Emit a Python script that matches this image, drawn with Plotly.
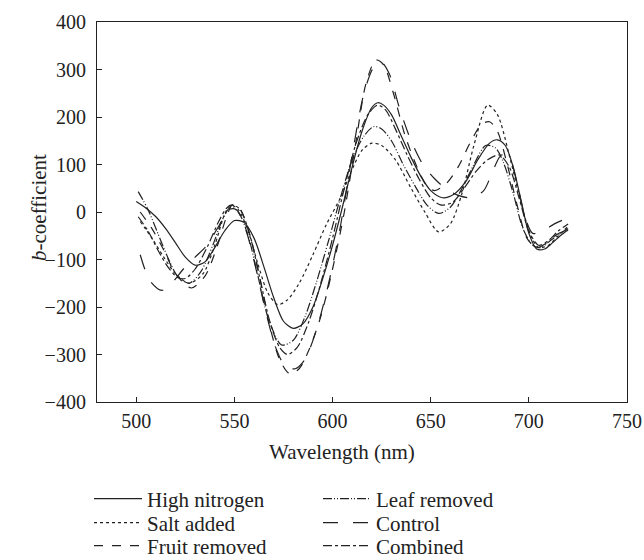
import plotly.graph_objects as go

# ---- data ----
hn_x = [500,505,510,515,520,525,530,535,540,545,550,555,560,565,570,575,580,585,590,595,600,605,610,615,620,623,626,630,635,640,645,650,656,662,668,674,680,684,688,692,696,700,704,708,712,716,720]
hn_y = [22,8,-10,-35,-65,-95,-112,-105,-75,-40,-18,-22,-55,-115,-180,-230,-245,-235,-200,-140,-70,10,95,170,220,230,225,205,160,115,75,45,30,38,65,110,145,152,140,95,25,-45,-78,-78,-65,-50,-38]

salt_x = [502,508,514,520,527,534,540,545,548,552,557,562,567,572,577,583,590,597,604,610,615,620,625,632,640,647,654,660,666,672,679,684,690,696,701,705,710,715,720]
salt_y = [-20,-55,-95,-130,-150,-130,-70,-5,15,5,-40,-110,-170,-195,-185,-150,-90,-25,30,90,130,145,140,110,50,0,-42,-25,40,140,225,205,120,20,-50,-75,-70,-50,-30]

fruit_x = [502,508,514,520,528,535,541,546,549,553,558,563,568,573,578,583,588,594,600,606,612,617,622,626,631,637,643,648,652,658,664,670,676,680,684,689,694,699,704,709,714,720]
fruit_y = [0,-35,-80,-130,-160,-135,-75,-10,15,5,-50,-140,-240,-310,-340,-330,-290,-220,-120,0,150,270,320,310,250,160,95,55,45,60,95,145,185,190,170,100,15,-55,-75,-65,-48,-35]

leaf_x = [501,506,511,516,521,527,533,539,544,548,552,557,562,567,574,580,586,592,598,604,610,616,621,625,630,636,642,648,654,660,666,672,678,683,687,692,697,702,706,711,716,720]
leaf_y = [43,5,-45,-95,-135,-150,-125,-70,-15,10,0,-50,-135,-220,-280,-270,-220,-145,-60,30,110,160,180,175,150,100,55,15,-3,10,50,100,140,135,105,40,-35,-70,-75,-60,-45,-35]

ctrl_x = [502,507,513,518,524,530,536,542,547,551,556,561,566,571,576,581,586,592,598,604,610,616,621,625,629,634,640,646,652,658,664,671,677,682,686,690,694,698,702,707,713,720]
ctrl_y = [-90,-145,-165,-150,-120,-95,-70,-30,5,5,-40,-120,-210,-285,-325,-330,-310,-245,-150,-30,120,250,305,315,290,220,150,100,70,48,35,30,45,90,120,115,60,-10,-45,-40,-25,-12]

comb_x = [501,506,511,516,521,525,530,536,542,546,549,553,558,563,568,573,577,582,588,594,600,606,612,618,623,627,632,638,644,650,655,661,667,673,679,685,690,695,700,705,710,715,720]
comb_y = [-10,-40,-80,-115,-138,-140,-120,-75,-20,8,15,5,-50,-140,-230,-285,-300,-285,-230,-150,-55,50,145,205,225,215,175,120,70,30,15,20,50,85,110,120,95,30,-40,-70,-60,-40,-25]

x_ticks = [500, 550, 600, 650, 700, 750]
y_ticks = [-400, -300, -200, -100, 0, 100, 200, 300, 400]

FONT = "Liberation Serif"
FS_TICK = 20
FS_TXT = 21
LC = "#222222"

W, H = 644, 560
L, R, T, B = 97, 17, 22, 158
PH = H - T - B
PW = W - L - R


def px_x(p):
    return (p - L) / PW


def px_y(p):
    return (T + PH - p) / PH


# (name, x, y, dash, legend id, legend column px, legend row centre px)
series = [
    ("High nitrogen", hn_x, hn_y, "solid", "legend", 89, 499),
    ("Salt added", salt_x, salt_y, "dot", "legend2", 89, 523),
    ("Fruit removed", fruit_x, fruit_y, "dash", "legend3", 89, 546),
    ("Leaf removed", leaf_x, leaf_y, "9px,2px,1px,2px,1px,2px", "legend4", 318, 499),
    ("Control", ctrl_x, ctrl_y, "longdash", "legend5", 318, 523),
    ("Combined", comb_x, comb_y, "dashdot", "legend6", 318, 546),
]

fig = go.Figure()
legends = {}
for name, xs, ys, dash, lg, lx, ly in series:
    fig.add_trace(go.Scatter(
        x=xs, y=ys, mode="lines", name=name, legend=lg, showlegend=True,
        line=dict(color=LC, width=1.2, dash=dash, shape="spline", smoothing=0.8),
    ))
    legends[lg] = dict(
        xref="paper", yref="paper", visible=True,
        x=px_x(lx), y=px_y(ly), xanchor="left", yanchor="middle",
        font=dict(family=FONT, size=FS_TXT, color=LC),
        bgcolor="rgba(0,0,0,0)", borderwidth=0, itemwidth=48,
    )

axis_common = dict(
    showline=True, linecolor="#222222", linewidth=1.2, mirror=True,
    ticks="inside", ticklen=5, tickcolor="#222222", tickwidth=1,
    showgrid=False, zeroline=False,
    tickfont=dict(family=FONT, size=FS_TICK, color="#222222"),
)

fig.update_layout(
    width=W, height=H, showlegend=True,
    margin=dict(l=L, r=R, t=T, b=B, autoexpand=False),
    paper_bgcolor="white", plot_bgcolor="white",
    font=dict(family=FONT, size=FS_TXT, color="#222222"),
    xaxis=dict(range=[480, 750], tickvals=x_ticks, ticklabelstandoff=1, **axis_common),
    yaxis=dict(range=[-400, 400], tickvals=y_ticks,
               ticktext=[("\u2212" + str(-v)) if v < 0 else str(v) for v in y_ticks],
               ticklabelstandoff=6, **axis_common),
    annotations=[
        dict(text="Wavelength (nm)", xref="paper", yref="paper",
             x=px_x(342), y=px_y(452), xanchor="center", yanchor="middle",
             showarrow=False, font=dict(family=FONT, size=FS_TXT, color=LC)),
        dict(text="<i>b</i>-coefficient", xref="paper", yref="paper", textangle=-90,
             x=px_x(39), y=px_y(208), xanchor="center", yanchor="middle",
             showarrow=False, font=dict(family=FONT, size=FS_TXT, color=LC)),
    ],
    **legends,
)

fig.write_html("out.html")
